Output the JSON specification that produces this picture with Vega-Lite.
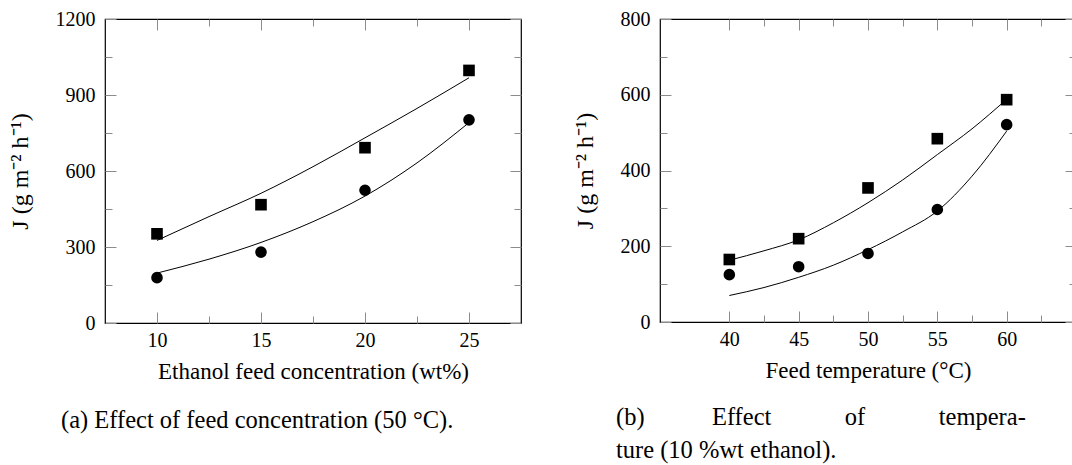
{
  "$schema": "https://vega.github.io/schema/vega-lite/v6.json",
  "background": "white",
  "padding": {"left": 7, "top": 8, "right": 0, "bottom": 0},
  "spacing": 49,
  "config": {
    "font": "Liberation Serif",
    "view": {"stroke": "#000", "strokeWidth": 1.2},
    "axis": {
      "grid": false,
      "domain": false,
      "tickColor": "#8c8c8c",
      "tickWidth": 1,
      "labelFont": "Liberation Serif",
      "labelFontSize": 20,
      "labelColor": "#000",
      "labelOverlap": false,
      "labelFlush": false,
      "format": "d",
      "titleFont": "Liberation Serif",
      "titleFontSize": 23,
      "titleFontWeight": "normal",
      "titleColor": "#000"
    },
    "axisY": {"titleFontSize": 24},
    "title": {"font": "Liberation Serif", "fontSize": 24.5, "fontWeight": "normal", "color": "#000"}
  },
  "hconcat": [
    {
      "width": 416,
      "height": 304,
      "title": {"text": "(a) Effect of feed concentration (50 °C).", "orient": "bottom", "anchor": "start", "frame": "bounds", "dx": 53, "offset": 26},
      "data": {"values": [
        {"x": 10, "y": 352, "series": "square", "kind": "point"},
        {"x": 15, "y": 467, "series": "square", "kind": "point"},
        {"x": 20, "y": 692, "series": "square", "kind": "point"},
        {"x": 25, "y": 997, "series": "square", "kind": "point"},
        {"x": 10, "y": 179, "series": "circle", "kind": "point"},
        {"x": 15, "y": 280, "series": "circle", "kind": "point"},
        {"x": 20, "y": 524, "series": "circle", "kind": "point"},
        {"x": 25, "y": 802, "series": "circle", "kind": "point"},
        {"x": 10, "y": 326, "series": "square", "kind": "fit"},
        {"x": 12.5, "y": 420, "series": "square", "kind": "fit"},
        {"x": 15, "y": 512, "series": "square", "kind": "fit"},
        {"x": 17.5, "y": 617, "series": "square", "kind": "fit"},
        {"x": 20, "y": 731, "series": "square", "kind": "fit"},
        {"x": 22.5, "y": 847, "series": "square", "kind": "fit"},
        {"x": 25, "y": 968, "series": "square", "kind": "fit"},
        {"x": 10, "y": 197, "series": "circle", "kind": "fit"},
        {"x": 12.5, "y": 252, "series": "circle", "kind": "fit"},
        {"x": 15, "y": 318, "series": "circle", "kind": "fit"},
        {"x": 17.5, "y": 400, "series": "circle", "kind": "fit"},
        {"x": 20, "y": 501, "series": "circle", "kind": "fit"},
        {"x": 22.5, "y": 632, "series": "circle", "kind": "fit"},
        {"x": 25, "y": 791, "series": "circle", "kind": "fit"}
      ]},
      "layer": [
        {
          "transform": [{"filter": "datum.kind == 'fit'"}],
          "mark": {"type": "line", "color": "#000", "strokeWidth": 1, "interpolate": "monotone"},
          "encoding": {
            "x": {"field": "x", "type": "quantitative", "scale": {"domain": [7.5, 27.5], "nice": false, "zero": false},
              "axis": {"orient": "bottom", "values": [10, 15, 20, 25], "tickSize": -11,
                "labelPadding": 18, "title": "Ethanol feed concentration (wt%)", "titlePadding": 10}},
            "y": {"field": "y", "type": "quantitative", "scale": {"domain": [0, 1200], "nice": false},
              "axis": {"orient": "left", "values": [0, 300, 600, 900, 1200], "tickSize": -11,
                "labelPadding": 21, "title": "J (g m⁻² h⁻¹)", "titlePadding": 23}},
            "detail": {"field": "series"}
          }
        },
        {
          "transform": [{"filter": "datum.kind == 'point'"}],
          "mark": {"type": "point", "filled": true, "color": "#000", "opacity": 1, "size": 135},
          "encoding": {
            "x": {"field": "x", "type": "quantitative",
              "axis": {"orient": "top", "values": [10, 15, 20, 25], "labels": false, "title": null, "tickSize": -11}},
            "y": {"field": "y", "type": "quantitative",
              "axis": {"orient": "right", "values": [0, 300, 600, 900, 1200], "labels": false, "title": null, "tickSize": -11}},
            "shape": {"field": "series", "type": "nominal", "scale": {"domain": ["circle", "square"], "range": ["circle", "square"]}, "legend": null}
          }
        },
        {
          "transform": [{"filter": "datum.kind == 'fit'"}],
          "mark": {"type": "point", "opacity": 0},
          "encoding": {
            "x": {"field": "x", "type": "quantitative",
              "axis": {"orient": "bottom", "values": [12.5, 17.5, 22.5], "labels": false, "title": null, "tickSize": -7}},
            "y": {"field": "y", "type": "quantitative",
              "axis": {"orient": "left", "values": [150, 450, 750, 1050], "labels": false, "title": null, "tickSize": -7}}
          }
        },
        {
          "transform": [{"filter": "datum.kind == 'fit'"}],
          "mark": {"type": "point", "opacity": 0},
          "encoding": {
            "x": {"field": "x", "type": "quantitative",
              "axis": {"orient": "top", "values": [12.5, 17.5, 22.5], "labels": false, "title": null, "tickSize": -7}},
            "y": {"field": "y", "type": "quantitative",
              "axis": {"orient": "right", "values": [150, 450, 750, 1050], "labels": false, "title": null, "tickSize": -7}}
          }
        }
      ],
      "resolve": {"axis": {"x": "independent", "y": "independent"}}
    },
    {
      "width": 416,
      "height": 303,
      "title": {"text": ["(b)\u00a0\u00a0\u00a0\u00a0\u00a0\u00a0\u00a0\u00a0\u00a0\u00a0\u00a0Effect\u00a0\u00a0\u00a0\u00a0\u00a0\u00a0\u00a0\u00a0\u00a0\u00a0\u00a0\u00a0of\u00a0\u00a0\u00a0\u00a0\u00a0\u00a0\u00a0\u00a0\u00a0\u00a0\u00a0\u00a0tempera-", "ture (10 %wt ethanol)."], "orient": "bottom", "anchor": "start", "frame": "bounds", "dx": 43, "offset": 24, "lineHeight": 33},
      "data": {"values": [
        {"x": 40, "y": 165, "series": "square", "kind": "point"},
        {"x": 45, "y": 220, "series": "square", "kind": "point"},
        {"x": 50, "y": 354, "series": "square", "kind": "point"},
        {"x": 55, "y": 484, "series": "square", "kind": "point"},
        {"x": 60, "y": 587, "series": "square", "kind": "point"},
        {"x": 40, "y": 125, "series": "circle", "kind": "point"},
        {"x": 45, "y": 146, "series": "circle", "kind": "point"},
        {"x": 50, "y": 181, "series": "circle", "kind": "point"},
        {"x": 55, "y": 297, "series": "circle", "kind": "point"},
        {"x": 60, "y": 521, "series": "circle", "kind": "point"},
        {"x": 40, "y": 163, "series": "square", "kind": "fit"},
        {"x": 42.5, "y": 188, "series": "square", "kind": "fit"},
        {"x": 45, "y": 217, "series": "square", "kind": "fit"},
        {"x": 47.5, "y": 262, "series": "square", "kind": "fit"},
        {"x": 50, "y": 315, "series": "square", "kind": "fit"},
        {"x": 52.5, "y": 375, "series": "square", "kind": "fit"},
        {"x": 55, "y": 442, "series": "square", "kind": "fit"},
        {"x": 57.5, "y": 510, "series": "square", "kind": "fit"},
        {"x": 60, "y": 588, "series": "square", "kind": "fit"},
        {"x": 40, "y": 70, "series": "circle", "kind": "fit"},
        {"x": 42.5, "y": 91, "series": "circle", "kind": "fit"},
        {"x": 45, "y": 118, "series": "circle", "kind": "fit"},
        {"x": 47.5, "y": 150, "series": "circle", "kind": "fit"},
        {"x": 50, "y": 191, "series": "circle", "kind": "fit"},
        {"x": 52.5, "y": 238, "series": "circle", "kind": "fit"},
        {"x": 55, "y": 293, "series": "circle", "kind": "fit"},
        {"x": 57.5, "y": 385, "series": "circle", "kind": "fit"},
        {"x": 60, "y": 504, "series": "circle", "kind": "fit"}
      ]},
      "layer": [
        {
          "transform": [{"filter": "datum.kind == 'fit'"}],
          "mark": {"type": "line", "color": "#000", "strokeWidth": 1, "interpolate": "monotone"},
          "encoding": {
            "x": {"field": "x", "type": "quantitative", "scale": {"domain": [35, 65], "nice": false, "zero": false},
              "axis": {"orient": "bottom", "values": [40, 45, 50, 55, 60], "tickSize": -11,
                "labelPadding": 18, "title": "Feed temperature (°C)", "titlePadding": 10}},
            "y": {"field": "y", "type": "quantitative", "scale": {"domain": [0, 800], "nice": false},
              "axis": {"orient": "left", "values": [0, 200, 400, 600, 800], "tickSize": -11,
                "labelPadding": 21, "title": "J (g m⁻² h⁻¹)", "titlePadding": 23}},
            "detail": {"field": "series"}
          }
        },
        {
          "transform": [{"filter": "datum.kind == 'point'"}],
          "mark": {"type": "point", "filled": true, "color": "#000", "opacity": 1, "size": 135},
          "encoding": {
            "x": {"field": "x", "type": "quantitative",
              "axis": {"orient": "top", "values": [40, 45, 50, 55, 60], "labels": false, "title": null, "tickSize": -11}},
            "y": {"field": "y", "type": "quantitative",
              "axis": {"orient": "right", "values": [0, 200, 400, 600, 800], "labels": false, "title": null, "tickSize": -11}},
            "shape": {"field": "series", "type": "nominal", "scale": {"domain": ["circle", "square"], "range": ["circle", "square"]}, "legend": null}
          }
        },
        {
          "transform": [{"filter": "datum.kind == 'fit'"}],
          "mark": {"type": "point", "opacity": 0},
          "encoding": {
            "x": {"field": "x", "type": "quantitative",
              "axis": {"orient": "bottom", "values": [42.5, 47.5, 52.5, 57.5, 62.5], "labels": false, "title": null, "tickSize": -7}},
            "y": {"field": "y", "type": "quantitative",
              "axis": {"orient": "left", "values": [100, 300, 500, 700], "labels": false, "title": null, "tickSize": -7}}
          }
        },
        {
          "transform": [{"filter": "datum.kind == 'fit'"}],
          "mark": {"type": "point", "opacity": 0},
          "encoding": {
            "x": {"field": "x", "type": "quantitative",
              "axis": {"orient": "top", "values": [42.5, 47.5, 52.5, 57.5, 62.5], "labels": false, "title": null, "tickSize": -7}},
            "y": {"field": "y", "type": "quantitative",
              "axis": {"orient": "right", "values": [100, 300, 500, 700], "labels": false, "title": null, "tickSize": -7}}
          }
        }
      ],
      "resolve": {"axis": {"x": "independent", "y": "independent"}}
    }
  ]
}
